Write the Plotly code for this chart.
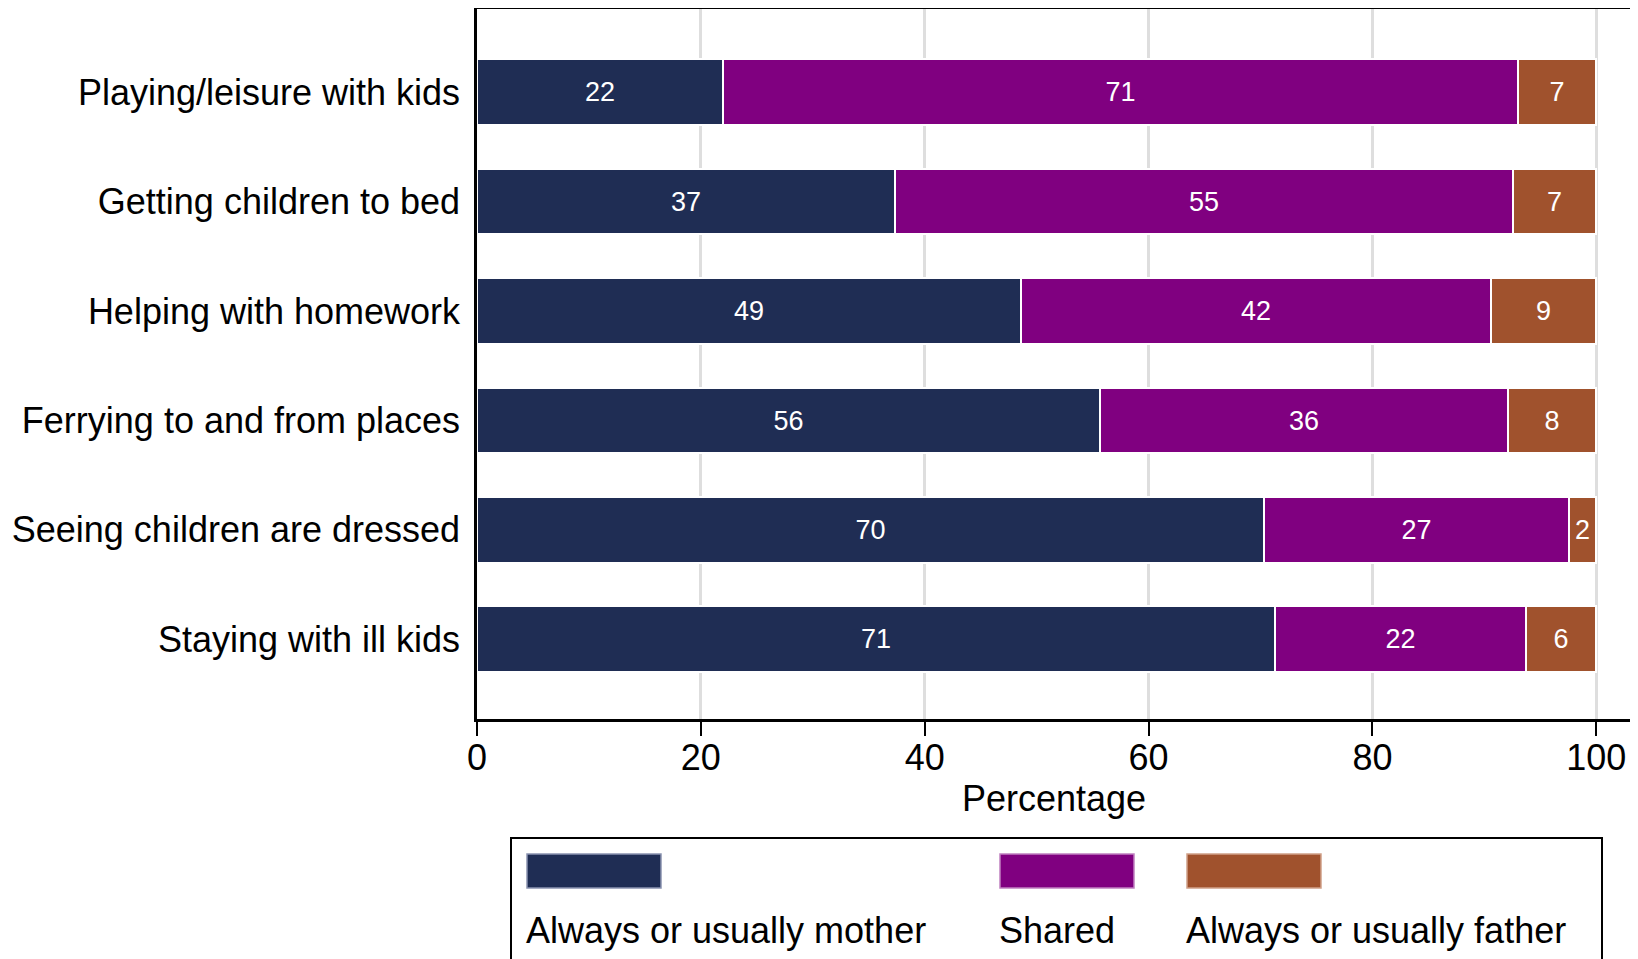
import plotly.graph_objects as go

categories = [
    "Playing/leisure with kids",
    "Getting children to bed",
    "Helping with homework",
    "Ferrying to and from places",
    "Seeing children are dressed",
    "Staying with ill kids",
]
series_names = ["Always or usually mother", "Shared", "Always or usually father"]
mother = [22.0, 37.35, 48.6, 55.7, 70.3, 71.3]
shared = [71.0, 55.2, 42.0, 36.4, 27.3, 22.4]
father = [7.0, 7.45, 9.4, 7.9, 2.4, 6.3]
x_ticks = [0, 20, 40, 60, 80, 100]

colors = ["#1f2d54", "#800080", "#a0522d"]
outline = ["#8a93b0", "#c080c0", "#d0a088"]
FONT = "Liberation Sans, Arial, Helvetica, sans-serif"

# page offset compensation (page body margin of 8px)
OX, OY = 8, 8
W, H = 1630, 951
L, R, T, B = 477 - OX, 1631 - OX, 9 - OY, 719 - OY


def px(x):
    return (x - OX - L) / (R - L)


def py(y):
    return (B - (y - OY)) / (B - T)


fig = go.Figure()
for name, vals, col in zip(series_names, [mother, shared, father], colors):
    fig.add_trace(go.Bar(
        y=categories, x=vals, name=name, orientation="h",
        marker=dict(color=col, line=dict(color="white", width=2)),
        width=0.6,
        text=[f"{v:.0f}" for v in vals],
        textposition="inside", insidetextanchor="middle", textangle=0,
        constraintext="none",
        textfont=dict(color="white", size=27, family=FONT),
        showlegend=False,
    ))

shapes = []
annotations = []
# legend box
shapes.append(dict(type="rect", xref="paper", yref="paper",
                   x0=px(511), x1=px(1602), y0=py(990), y1=py(838),
                   line=dict(color="black", width=2), fillcolor="rgba(0,0,0,0)"))
sw_x = [527, 1000, 1187]
for i, name in enumerate(series_names):
    shapes.append(dict(type="rect", xref="paper", yref="paper",
                       x0=px(sw_x[i]), x1=px(sw_x[i] + 134), y0=py(888), y1=py(854),
                       line=dict(color=outline[i], width=1.5), fillcolor=colors[i]))
    annotations.append(dict(xref="paper", yref="paper", x=px(sw_x[i] - 3), y=py(930),
                            text=name, showarrow=False, xanchor="left", yanchor="middle",
                            font=dict(size=36, color="black", family=FONT)))

fig.update_layout(
    width=W, height=H,
    barmode="stack", bargap=0,
    plot_bgcolor="white", paper_bgcolor="white",
    margin=dict(l=L, r=W - R, t=T, b=H - B, pad=0, autoexpand=False),
    font=dict(family=FONT, color="black", size=36),
    uniformtext=dict(minsize=27, mode="show"),
    shapes=shapes, annotations=annotations,
    xaxis=dict(
        range=[0, 103.1], tickvals=x_ticks, ticktext=[str(v) for v in x_ticks],
        showgrid=True, gridcolor="#dedede", gridwidth=2.5, zeroline=False,
        showline=True, linecolor="black", linewidth=2.5, mirror=True,
        ticks="outside", ticklen=14, tickwidth=1.5, tickcolor="black",
        tickfont=dict(size=36, family=FONT), ticklabelstandoff=-9,
        automargin=False,
        title=dict(text="Percentage", font=dict(size=36, family=FONT), standoff=6),
    ),
    yaxis=dict(
        categoryorder="array", categoryarray=categories,
        range=[5.73, -0.76], showgrid=False, zeroline=False,
        showline=True, linecolor="black", linewidth=2.5, mirror=True,
        ticks="", ticklabelstandoff=7, automargin=False,
        tickfont=dict(size=36, family=FONT),
    ),
)

fig.write_html("out.html")
